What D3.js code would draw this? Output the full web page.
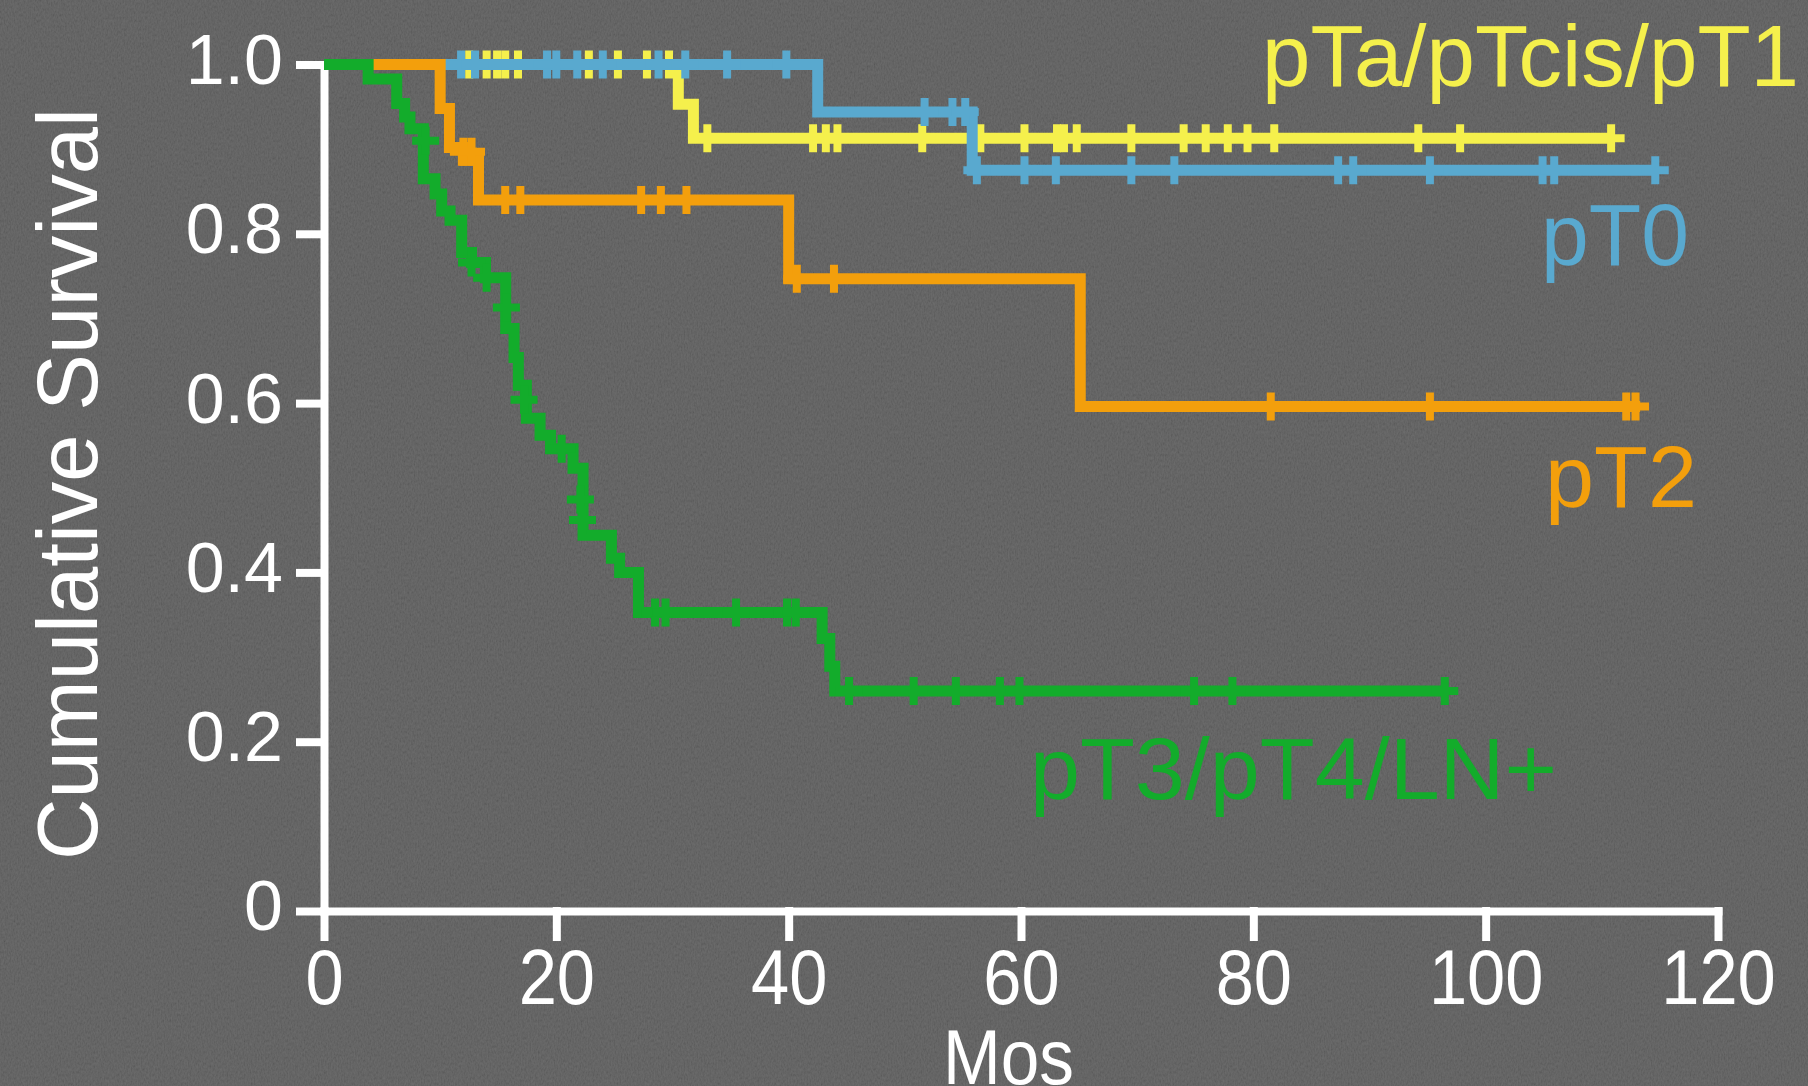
<!DOCTYPE html>
<html lang="en">
<head>
<meta charset="UTF-8">
<title>Cumulative Survival</title>
<style>
  body { margin: 0; background: #5b5b5b; }
  svg { display: block; }
  text { font-family: "Liberation Sans", Arial, sans-serif; }
</style>
</head>
<body>
<div id="chart"></div>
<script src="https://cdn.jsdelivr.net/npm/d3@7"></script>
<script>
// each curve: month of every drop, survival just after it, last follow-up
const yellowT = [30.5, 31.8]
const yellowS = [0.953, 0.913]
const yellowEnd = 110.8
const yellowCensor = [12.5, 14.0, 14.9, 15.6, 16.7, 22.8, 25.3, 27.8, 29.7, 33.0, 42.1, 43.2, 44.2,
  51.5, 56.5, 60.3, 63.1, 63.7, 64.8, 69.5, 74.0, 75.9, 77.8, 79.5, 81.8, 94.2, 97.8, 110.8]

const blueT = [42.5, 55.8]
const blueS = [0.944, 0.875]
const blueEnd = 114.6
const blueCensor = [11.8, 13.0, 19.2, 20.0, 21.8, 24.0, 28.8, 31.1, 34.7, 39.8, 51.7, 54.1, 55.2,
  56.2, 60.3, 63.0, 69.5, 73.2, 87.3, 88.6, 95.2, 104.9, 105.9, 114.6]

const orangeT = [10.0, 10.8, 12.0, 13.3, 40.0, 65.1]
const orangeS = [0.948, 0.902, 0.887, 0.840, 0.747, 0.596]
const orangeEnd = 113.3
const orangeCensor = [12.0, 12.7, 15.6, 16.9, 27.3, 29.0, 31.2, 40.7, 43.9, 81.5, 95.2, 112.1, 112.9]
const orangeCensorS = [0.897, 0.897, 0.840, 0.840, 0.840, 0.840, 0.840, 0.747, 0.747, 0.596, 0.596, 0.596, 0.596]

const greenT = [3.8, 6.26, 6.94, 7.4, 8.55, 9.56, 10.13, 10.85, 11.85, 12.7, 13.9, 15.64, 16.36, 16.73,
  17.42, 18.6, 19.5, 21.44, 22.3, 24.74, 25.45, 27.07, 42.88, 43.54, 43.97]
const greenS = [0.983, 0.954, 0.938, 0.924, 0.865, 0.847, 0.827, 0.816, 0.778, 0.766, 0.748, 0.688, 0.654, 0.621,
  0.582, 0.562, 0.546, 0.523, 0.444, 0.4166, 0.4, 0.3525, 0.322, 0.289, 0.26]
const greenEnd = 96.5
const greenCensor = [8.75, 12.7, 14.0, 15.7, 17.22, 20.46, 22.07, 22.25, 28.5, 29.4, 35.47, 39.86, 40.61,
  45.2, 50.76, 54.39, 58.18, 59.87, 74.9, 78.2, 96.48]
const greenCensorS = [0.91, 0.766, 0.748, 0.713, 0.604, 0.546, 0.486, 0.462, 0.3525, 0.3525, 0.3525, 0.3525, 0.3525,
  0.26, 0.26, 0.26, 0.26, 0.26, 0.26, 0.26, 0.26]

const xTicks = [0, 20, 40, 60, 80, 100, 120]
const yTicks = [0, 0.2, 0.4, 0.6, 0.8, 1.0]
const yTickLabels = ["0", "0.2", "0.4", "0.6", "0.8", "1.0"]

const [width, height] = [1808, 1086]

var svg = d3.select("#chart").append("svg")
    .attr("width", width)
    .attr("height", height)

// grainy grey backdrop
var defs = svg.append("defs")
var noise = defs.append("filter").attr("id", "grain")
    .attr("x", 0).attr("y", 0).attr("width", "100%").attr("height", "100%")
noise.append("feTurbulence").attr("type", "fractalNoise")
    .attr("baseFrequency", "0.7 0.35").attr("numOctaves", 2).attr("seed", 4)
noise.append("feColorMatrix").attr("type", "matrix")
    .attr("values", "1 0 0 0 0  1 0 0 0 0  1 0 0 0 0  0 0 0 0 0.13")
svg.append("rect").attr("width", width).attr("height", height).attr("fill", "#585858")
svg.append("rect").attr("width", width).attr("height", height).attr("filter", "url(#grain)")

var x = d3.scaleLinear().domain([0, 120]).range([324, 1718])
var y = d3.scaleLinear().domain([0, 1]).range([911, 64.5])

// axes
var yAxis = svg.append("g")
    .attr("transform", "translate(" + x(0) + ",0)")
    .call(d3.axisLeft(y).tickValues(yTicks).tickFormat((d, i) => yTickLabels[i])
        .tickSize(24).tickSizeOuter(0).tickPadding(17))
var xAxis = svg.append("g")
    .attr("transform", "translate(0," + y(0) + ")")
    .call(d3.axisBottom(x).tickValues(xTicks).tickSize(26).tickSizeOuter(0))

svg.selectAll(".domain, .tick line")
    .attr("stroke", "#fff")
    .attr("stroke-width", 8)
    .attr("stroke-linecap", "square")

yAxis.selectAll("text")
    .attr("fill", "#fff")
    .attr("font-size", 70)
    .attr("dy", "0.27em")
xAxis.selectAll("text")
    .attr("fill", "#fff")
    .attr("font-size", 78)
    .attr("y", 0).attr("dy", 0)
    .attr("transform", "translate(0,93) scale(0.88,1)")

svg.append("text")
    .attr("transform", "translate(97,484) rotate(-90)")
    .attr("text-anchor", "middle")
    .attr("font-size", 86)
    .attr("fill", "#fff")
    .attr("textLength", 752)
    .attr("lengthAdjust", "spacingAndGlyphs")
    .text("Cumulative Survival")

svg.append("text")
    .attr("x", 943).attr("y", 1084)
    .attr("font-size", 78)
    .attr("fill", "#fff")
    .attr("textLength", 131)
    .attr("lengthAdjust", "spacingAndGlyphs")
    .text("Mos")

// survival curves, drawn bottom to top like the source
var groups = [
    {T: yellowT, S: yellowS, end: yellowEnd, c: yellowCensor, cs: null, color: "#f5f04c"},
    {T: blueT, S: blueS, end: blueEnd, c: blueCensor, cs: null, color: "#59a9cf"},
    {T: orangeT, S: orangeS, end: orangeEnd, c: orangeCensor, cs: orangeCensorS, color: "#f39f0c"},
    {T: greenT, S: greenS, end: greenEnd, c: greenCensor, cs: greenCensorS, color: "#13ac2b"}
]

function levelAt(g, t) {
    var s = 1
    g.T.forEach(function (d, i) { if (d <= t) s = g.S[i] })
    return s
}

var step = d3.line()
    .x(d => x(d[0]))
    .y(d => y(d[1]))
    .curve(d3.curveStepAfter)

groups.forEach(function (g) {
    var pts = [[0, 1]]
    g.T.forEach((t, i) => pts.push([t, g.S[i]]))
    pts.push([g.end, g.S[g.S.length - 1]])

    svg.append("path")
        .attr("d", step(pts))
        .attr("fill", "none")
        .attr("stroke", g.color)
        .attr("stroke-width", 11)
        .attr("stroke-linejoin", "miter")

    var marks = g.c.map((t, i) => [t, g.cs ? g.cs[i] : levelAt(g, t)])
    svg.append("g").selectAll("path")
        .data(marks)
        .join("path")
        .attr("d", d => {
            var cx = x(d[0]), cy = y(d[1])
            return "M" + (cx - 13.5) + "," + cy + "H" + (cx + 13.5) +
                "M" + cx + "," + (cy - 14) + "V" + (cy + 14)
        })
        .attr("stroke", g.color)
        .attr("stroke-width", 8)
        .attr("fill", "none")
})

// curve labels
var labels = [
    {text: "pTa/pTcis/pT1", x: 1262, y: 86, len: 537, color: "#f5f04c"},
    {text: "pT0", x: 1541, y: 265, len: 148, color: "#59a9cf"},
    {text: "pT2", x: 1545, y: 507, len: 152, color: "#f39f0c"},
    {text: "pT3/pT4/LN+", x: 1030, y: 799, len: 527, color: "#13ac2b"}
]
svg.append("g").selectAll("text")
    .data(labels)
    .join("text")
    .attr("x", d => d.x)
    .attr("y", d => d.y)
    .attr("font-size", 88)
    .attr("fill", d => d.color)
    .attr("textLength", d => d.len)
    .attr("lengthAdjust", "spacingAndGlyphs")
    .text(d => d.text)
</script>
</body>
</html>
